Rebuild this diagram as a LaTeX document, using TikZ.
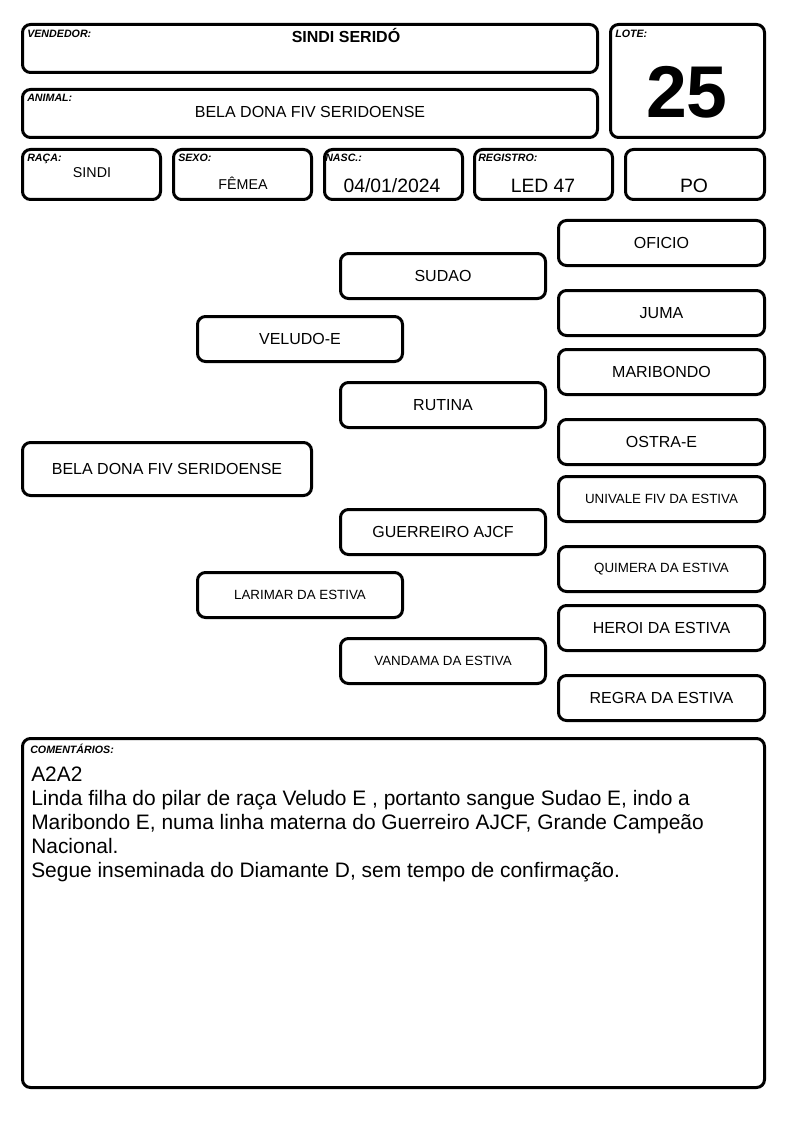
\documentclass[tikz,border=0pt]{standalone}
\usepackage{fontspec}
\setmainfont{Liberation Sans}
\begin{document}
\begin{tikzpicture}[x=0.75pt,y=-0.75pt,
  box/.style={draw=black,line width=2.25pt,rounded corners=6pt,inner sep=0pt,align=center},
  lbl/.style={anchor=base west,font=\fontsize{8}{9}\selectfont\bfseries\itshape,inner sep=0pt},
  val/.style={anchor=base,inner sep=0pt},
  ped/.style={font=\fontsize{12}{14}\selectfont},
  peds/.style={font=\fontsize{10}{12}\selectfont},
  cline/.style={anchor=base west,inner sep=0pt,font=\fontsize{15.7}{18}\selectfont}]
\useasboundingbox (0,0) rectangle (794,1123);
\newcommand\bx[6][]{\node[box,#1,minimum width={(#4-#2-3)*0.75pt},minimum height={(#5-#3-3)*0.75pt}] (#6) at ({(#2+#4)/2},{(#3+#5)/2})}
% header
\bx{21}{23}{599}{74}{vend} {};
\node[lbl] (vendl) at (27,38) {VENDEDOR:};
\node[val,font=\fontsize{12}{14}\selectfont\bfseries] (vendv) at (346,43) {SINDI SERIDÓ};
\bx{21}{88}{599}{139}{anim} {};
\node[lbl] (animl) at (27,102) {ANIMAL:};
\node[val,font=\fontsize{12}{14}\selectfont] (animv) at (310,118) {BELA DONA FIV SERIDOENSE};
\bx{609}{23}{766}{139}{lote} {};
\node[lbl] (lotel) at (615,38) {LOTE:};
\node[val,font=\fontsize{55}{60}\selectfont\bfseries] (lotev) at (687,118) {25};
\bx{21}{148}{162}{201}{raca} {};
\node[lbl] (racal) at (27,162) {RAÇA:};
\node[val,font=\fontsize{10.7}{13}\selectfont] (racav) at (92,178) {SINDI};
\bx{172}{148}{313}{201}{sexo} {};
\node[lbl] (sexol) at (178,162) {SEXO:};
\node[val,font=\fontsize{10.7}{13}\selectfont] (sexov) at (243,190) {FÊMEA};
\bx{323}{148}{464}{201}{nasc} {};
\node[lbl] (nascl) at (325,162) {NASC.:};
\node[val,font=\fontsize{14.5}{16}\selectfont] (nascv) at (392,193) {04/01/2024};
\bx{473}{148}{614}{201}{reg} {};
\node[lbl] (regl) at (478,162) {REGISTRO:};
\node[val,font=\fontsize{14.5}{16}\selectfont] (regv) at (543,193) {LED 47};
\bx{624}{148}{766}{201}{po} {};
\node[val,font=\fontsize{14.5}{16}\selectfont] (pov) at (694,193) {PO};
% pedigree
\bx[ped]{557}{219}{766}{267}{oficio} {OFICIO};
\bx[ped]{339}{252}{547}{300}{sudao} {SUDAO};
\bx[ped]{557}{289}{766}{337}{juma} {JUMA};
\bx[ped]{196}{315}{404}{363}{veludo} {VELUDO-E};
\bx[ped]{557}{348}{766}{396}{maribondo} {MARIBONDO};
\bx[ped]{339}{381}{547}{429}{rutina} {RUTINA};
\bx[ped]{557}{418}{766}{466}{ostra} {OSTRA-E};
\bx[ped]{21}{441}{313}{497}{bela} {BELA DONA FIV SERIDOENSE};
\bx[peds]{557}{475}{766}{523}{univale} {UNIVALE FIV DA ESTIVA};
\bx[ped]{339}{508}{547}{556}{guerreiro} {GUERREIRO AJCF};
\bx[peds]{557}{545}{766}{593}{quimera} {QUIMERA DA ESTIVA};
\bx[peds]{196}{571}{404}{619}{larimar} {LARIMAR DA ESTIVA};
\bx[ped]{557}{604}{766}{652}{heroi} {HEROI DA ESTIVA};
\bx[peds]{339}{637}{547}{685}{vandama} {VANDAMA DA ESTIVA};
\bx[ped]{557}{674}{766}{722}{regra} {REGRA DA ESTIVA};
% comments
\bx{21}{737}{766}{1089}{com} {};
\node[lbl] (coml) at (30,753) {COMENTÁRIOS:};
\node[cline] (c1) at (31,781) {A2A2};
\node[cline] (c2) at (31,805) {Linda filha do pilar de raça Veludo E , portanto sangue Sudao E, indo a};
\node[cline] (c3) at (31,829) {Maribondo E, numa linha materna do Guerreiro AJCF, Grande Campeão};
\node[cline] (c4) at (31,853) {Nacional.};
\node[cline] (c5) at (31,877) {Segue inseminada do Diamante D, sem tempo de confirmação.};
\end{tikzpicture}
\end{document}
